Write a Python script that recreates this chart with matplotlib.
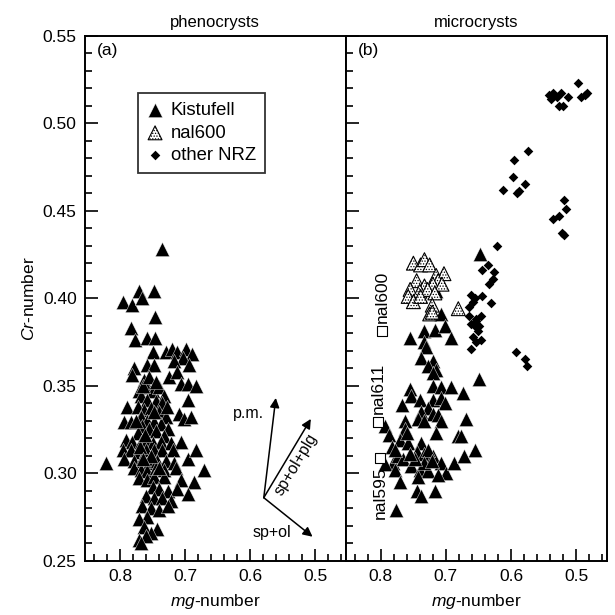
import matplotlib
matplotlib.use("Agg")
import matplotlib.pyplot as plt
from matplotlib.ticker import MultipleLocator

plt.rcParams['font.family'] = ['Liberation Sans', 'DejaVu Sans']
plt.rcParams['mathtext.fontset'] = 'custom'
plt.rcParams['mathtext.rm'] = 'Liberation Sans'
plt.rcParams['mathtext.it'] = 'Liberation Sans:italic'
plt.rcParams['hatch.linewidth'] = 0.6

# (a) phenocrysts, Kistufell
pheno_mg = [0.735, 0.795, 0.781, 0.771, 0.767, 0.748, 0.747, 0.784, 0.777, 0.759, 0.747, 0.750,
            0.730, 0.720, 0.712, 0.699, 0.689, 0.704, 0.717, 0.694, 0.758, 0.748, 0.779, 0.781,
            0.725, 0.712, 0.763, 0.707, 0.696, 0.684, 0.696, 0.709, 0.702, 0.691, 0.789, 0.794,
            0.784, 0.771, 0.760, 0.750, 0.740, 0.732, 0.768, 0.758, 0.745, 0.735, 0.773, 0.763,
            0.753, 0.740, 0.730, 0.768, 0.758, 0.748, 0.737, 0.727, 0.766, 0.755, 0.745, 0.773,
            0.732, 0.791, 0.781, 0.768, 0.758, 0.750, 0.737, 0.722, 0.707, 0.796, 0.784, 0.771,
            0.760, 0.748, 0.735, 0.719, 0.794, 0.778, 0.766, 0.755, 0.743, 0.730, 0.717, 0.696,
            0.684, 0.778, 0.768, 0.758, 0.745, 0.732, 0.714, 0.822, 0.771, 0.758, 0.748, 0.732,
            0.671, 0.707, 0.686, 0.750, 0.740, 0.727, 0.712, 0.696, 0.760, 0.748, 0.735, 0.722,
            0.766, 0.753, 0.740, 0.727, 0.758, 0.771, 0.743, 0.763, 0.753, 0.771, 0.760, 0.768,
            0.765, 0.755, 0.745, 0.770, 0.752, 0.740, 0.762, 0.775, 0.748, 0.728, 0.765]
pheno_cr = [0.428, 0.398, 0.396, 0.404, 0.400, 0.404, 0.389, 0.383, 0.376, 0.377, 0.377, 0.369,
            0.369, 0.371, 0.369, 0.371, 0.368, 0.366, 0.364, 0.362, 0.362, 0.362, 0.360, 0.356,
            0.355, 0.358, 0.353, 0.351, 0.351, 0.350, 0.342, 0.334, 0.331, 0.332, 0.338, 0.329,
            0.329, 0.347, 0.349, 0.347, 0.349, 0.344, 0.344, 0.342, 0.341, 0.340, 0.338, 0.336,
            0.337, 0.335, 0.332, 0.332, 0.330, 0.329, 0.328, 0.325, 0.327, 0.325, 0.324, 0.323,
            0.321, 0.319, 0.318, 0.318, 0.319, 0.317, 0.318, 0.317, 0.318, 0.313, 0.313, 0.312,
            0.313, 0.313, 0.313, 0.313, 0.308, 0.307, 0.308, 0.306, 0.307, 0.307, 0.306, 0.308,
            0.313, 0.303, 0.302, 0.301, 0.303, 0.302, 0.303, 0.306, 0.297, 0.296, 0.298, 0.298,
            0.302, 0.296, 0.295, 0.292, 0.291, 0.290, 0.291, 0.288, 0.287, 0.286, 0.286, 0.284,
            0.281, 0.280, 0.279, 0.281, 0.275, 0.274, 0.268, 0.269, 0.266, 0.262, 0.264, 0.260,
            0.350, 0.355, 0.352, 0.315, 0.310, 0.303, 0.322, 0.330, 0.335, 0.338, 0.308]

# (b) microcrysts, Kistufell
micro_mg = [0.647, 0.715, 0.707, 0.733, 0.717, 0.702, 0.692, 0.755, 0.733, 0.730, 0.738, 0.720,
            0.728, 0.715, 0.720, 0.649, 0.720, 0.707, 0.692, 0.755, 0.674, 0.753, 0.740, 0.720,
            0.707, 0.702, 0.768, 0.728, 0.738, 0.720, 0.712, 0.743, 0.733, 0.707, 0.763, 0.669,
            0.793, 0.788, 0.763, 0.771, 0.783, 0.758, 0.715, 0.682, 0.677, 0.738, 0.745, 0.733,
            0.720, 0.728, 0.707, 0.700, 0.687, 0.672, 0.656, 0.781, 0.773, 0.766, 0.793, 0.778,
            0.753, 0.740, 0.728, 0.712, 0.743, 0.771, 0.745, 0.738, 0.717, 0.776, 0.733, 0.722,
            0.748, 0.755, 0.760, 0.778]
micro_cr = [0.425, 0.404, 0.391, 0.381, 0.382, 0.384, 0.377, 0.377, 0.375, 0.372, 0.366, 0.364,
            0.361, 0.359, 0.357, 0.354, 0.350, 0.349, 0.349, 0.348, 0.346, 0.344, 0.342, 0.342,
            0.343, 0.340, 0.339, 0.337, 0.335, 0.334, 0.333, 0.331, 0.330, 0.330, 0.330, 0.331,
            0.327, 0.322, 0.325, 0.319, 0.315, 0.317, 0.323, 0.321, 0.321, 0.317, 0.312, 0.311,
            0.310, 0.313, 0.306, 0.300, 0.306, 0.310, 0.313, 0.306, 0.310, 0.308, 0.305, 0.302,
            0.304, 0.302, 0.301, 0.299, 0.298, 0.295, 0.290, 0.287, 0.290, 0.279, 0.306, 0.307,
            0.308, 0.311, 0.323, 0.313]

# (b) nal600
nal600_mg = [0.750, 0.739, 0.733, 0.725, 0.715, 0.703, 0.712, 0.745, 0.733, 0.720, 0.706,
             0.755, 0.740, 0.728, 0.717, 0.758, 0.750, 0.739, 0.721, 0.725, 0.721, 0.681]
nal600_cr = [0.420, 0.419, 0.422, 0.419, 0.413, 0.414, 0.410, 0.410, 0.407, 0.408, 0.408,
             0.405, 0.404, 0.405, 0.403, 0.401, 0.398, 0.401, 0.396, 0.391, 0.392, 0.394]

# (b) other NRZ
nrz_mg = [0.542, 0.536, 0.530, 0.523, 0.526, 0.520, 0.512, 0.497, 0.492, 0.487, 0.484, 0.539,
          0.574, 0.595, 0.597, 0.578, 0.613, 0.591, 0.587, 0.518, 0.515, 0.526, 0.535, 0.522,
          0.518, 0.621, 0.635, 0.645, 0.626, 0.627, 0.634,
          0.662, 0.644, 0.631, 0.655, 0.664, 0.659, 0.664, 0.646, 0.654, 0.662, 0.649, 0.651,
          0.659, 0.654, 0.646, 0.662, 0.656, 0.654, 0.593, 0.578, 0.575]
nrz_cr = [0.516, 0.517, 0.515, 0.517, 0.510, 0.510, 0.515, 0.523, 0.515, 0.516, 0.517, 0.514,
          0.484, 0.479, 0.469, 0.465, 0.462, 0.460, 0.461, 0.456, 0.451, 0.447, 0.445, 0.437,
          0.436, 0.430, 0.419, 0.416, 0.415, 0.411, 0.408,
          0.402, 0.401, 0.397, 0.400, 0.395, 0.398, 0.390, 0.390, 0.387, 0.385, 0.384, 0.381,
          0.378, 0.375, 0.376, 0.371, 0.384, 0.388, 0.369, 0.365, 0.361]

# single samples (open squares)
sample_names = ['nal600', 'nal611', 'nal595']
sample_mg = [0.7985, 0.8036, 0.801]
sample_cr = [0.381, 0.329, 0.3085]


def style_axis(ax, show_labels):
    ax.set_xlim(0.854, 0.453)
    ax.set_ylim(0.25, 0.55)
    ax.xaxis.set_major_locator(MultipleLocator(0.1))
    ax.xaxis.set_minor_locator(MultipleLocator(0.02))
    ax.yaxis.set_major_locator(MultipleLocator(0.05))
    ax.yaxis.set_minor_locator(MultipleLocator(0.01))
    ax.yaxis.set_major_formatter('{x:.2f}')
    ax.xaxis.set_major_formatter('{x:.1f}')
    ax.tick_params(which='both', direction='in', top=False, right=False,
                   labelleft=show_labels, labelsize=12.5, width=1.2)
    ax.tick_params(which='major', length=9, pad=6)
    ax.tick_params(which='minor', length=5)
    for s in ax.spines.values():
        s.set_linewidth(1.4)
    ax.set_xlabel('$\\it{mg}$-number', fontsize=12.5, labelpad=6)


fig = plt.figure(figsize=(6.15, 6.15), dpi=100)
ax1 = fig.add_axes([0.1382, 0.0883, 0.4239, 0.8537])
ax2 = fig.add_axes([0.5621, 0.0883, 0.4244, 0.8537])

style_axis(ax1, True)
style_axis(ax2, False)
ax1.set_ylabel('$\\it{Cr}$-number', fontsize=12.5, labelpad=4)

ax1.set_title('phenocrysts', fontsize=12, pad=6)
ax2.set_title('microcrysts', fontsize=12, pad=6)

tri = dict(marker='^', s=105, c='black', edgecolors='white', linewidths=0.3, zorder=3)
ax1.scatter(pheno_mg, pheno_cr, **tri)
h_kis = ax2.scatter(micro_mg, micro_cr, **tri)
h_nal = ax2.scatter(nal600_mg, nal600_cr, marker='^', s=100, facecolors='white', edgecolors='black',
                    linewidths=0.8, hatch='......', zorder=4)
h_nrz = ax2.scatter(nrz_mg, nrz_cr, marker='D', s=24, c='black', linewidths=0, zorder=3)
ax2.scatter(sample_mg, sample_cr, marker='s', s=45, facecolors='white', edgecolors='black',
            linewidths=0.8, zorder=5)

for name, x, y in zip(sample_names, sample_mg, sample_cr):
    if name == 'nal595':
        ax2.annotate(name, (x, y), xytext=(0, -6), textcoords='offset points', rotation=90,
                     ha='center', va='top', fontsize=12.5)
    else:
        ax2.annotate(name, (x, y), xytext=(0, 6), textcoords='offset points', rotation=90,
                     ha='center', va='bottom', fontsize=12.5)

ax1.text(0.045, 0.972, '(a)', transform=ax1.transAxes, fontsize=12.5, va='center')
ax2.text(0.045, 0.972, '(b)', transform=ax2.transAxes, fontsize=12.5, va='center')

# vectors
origin = (0.579, 0.286)
tips = [(0.5605, 0.343), (0.5066, 0.331), (0.504, 0.2637)]
for tip in tips:
    ax1.annotate('', xy=tip, xytext=origin,
                 arrowprops=dict(arrowstyle='-|>', color='black', lw=1.1,
                                 mutation_scale=14, shrinkA=0, shrinkB=0))
ax1.text(0.602, 0.334, 'p.m.', fontsize=11.5, ha='center', va='center')
ax1.text(0.566, 0.266, 'sp+ol', fontsize=11.5, ha='center', va='center')
ax1.text(0.530, 0.305, 'sp+ol+plg', fontsize=11.5, ha='center', va='center', rotation=59)

leg = ax1.legend([h_kis, h_nal, h_nrz], ['Kistufell', 'nal600', 'other NRZ'], loc='upper left',
                 bbox_to_anchor=(0.205, 0.891), borderaxespad=0, fontsize=13.3, frameon=True,
                 fancybox=False, scatterpoints=1, handlelength=0.8, handletextpad=0.45,
                 labelspacing=0.3, borderpad=0.5)
leg.get_frame().set_edgecolor('black')
leg.get_frame().set_linewidth(1.3)

fig.savefig('out.png', dpi=100)
